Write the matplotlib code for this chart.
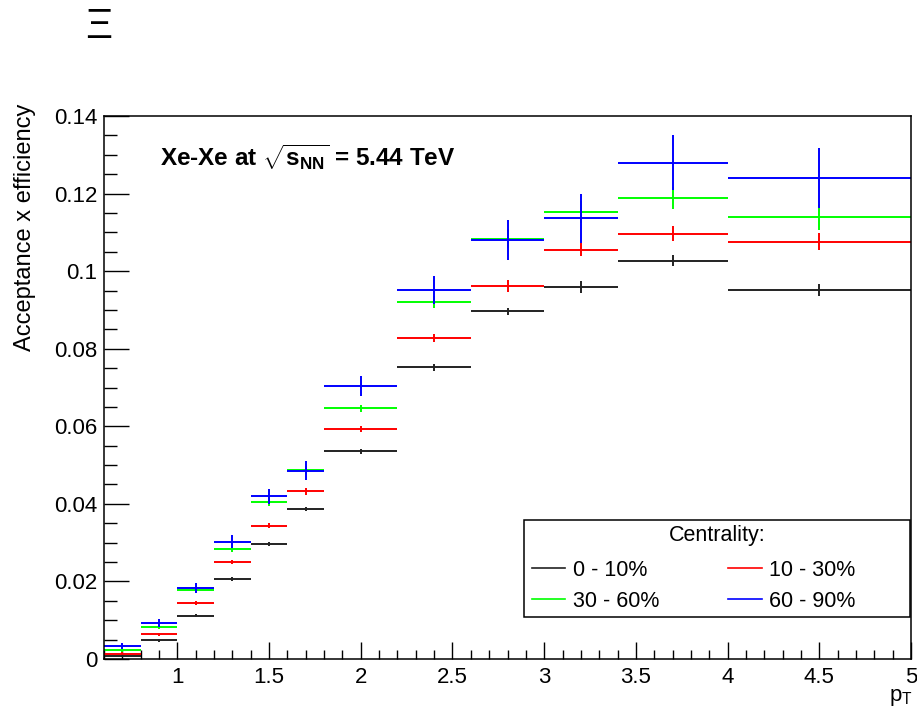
import matplotlib
matplotlib.use("Agg")
import matplotlib.pyplot as plt
from matplotlib.lines import Line2D
from matplotlib.patches import Rectangle
from matplotlib.ticker import MultipleLocator
import numpy as np

plt.rcParams['font.family'] = ['Liberation Sans', 'DejaVu Sans']
plt.rcParams['mathtext.fontset'] = 'custom'
plt.rcParams['mathtext.rm'] = 'Liberation Sans'
plt.rcParams['mathtext.bf'] = 'Liberation Sans:bold'

# pT bin edges
edges = [0.6, 0.8, 1.0, 1.2, 1.4, 1.6, 1.8, 2.2, 2.6, 3.0, 3.4, 4.0, 5.0]

# acceptance x efficiency per centrality class
eff_0_10 = [0.0007, 0.0048, 0.0111, 0.0207, 0.0297, 0.0387, 0.0535, 0.0752, 0.0896, 0.0959, 0.1027, 0.0951]
err_0_10 = [0.0003, 0.0003, 0.0004, 0.0005, 0.0005, 0.0006, 0.0007, 0.0009, 0.0010, 0.0015, 0.0015, 0.0016]
eff_10_30 = [0.0014, 0.0064, 0.0145, 0.0250, 0.0344, 0.0432, 0.0593, 0.0827, 0.0962, 0.1055, 0.1097, 0.1076]
err_10_30 = [0.0003, 0.0004, 0.0005, 0.0005, 0.0006, 0.0008, 0.0008, 0.0010, 0.0015, 0.0017, 0.0019, 0.0022]
eff_30_60 = [0.0023, 0.0082, 0.0178, 0.0283, 0.0404, 0.0488, 0.0646, 0.0921, 0.1084, 0.1152, 0.1189, 0.1139]
err_30_60 = [0.0004, 0.0005, 0.0006, 0.0008, 0.0010, 0.0010, 0.0010, 0.0016, 0.0025, 0.0028, 0.0028, 0.0033]
eff_60_90 = [0.0034, 0.0092, 0.0184, 0.0302, 0.0419, 0.0486, 0.0703, 0.0951, 0.1080, 0.1136, 0.1279, 0.1240]
err_60_90 = [0.0008, 0.0010, 0.0013, 0.0017, 0.0020, 0.0024, 0.0026, 0.0037, 0.0051, 0.0063, 0.0071, 0.0077]

labels = ['0 - 10%', '10 - 30%', '30 - 60%', '60 - 90%']
colors = ['#222222', '#ff0000', '#00ff00', '#0000ff']

edges = np.array(edges)
centers = (edges[:-1] + edges[1:]) / 2
halfw = (edges[1:] - edges[:-1]) / 2

W, H = 917, 710
fig = plt.figure(figsize=(W / 100, H / 100), dpi=100)
ax = fig.add_axes([104 / W, 51 / H, 807 / W, 543 / H])

series = [(eff_0_10, err_0_10), (eff_10_30, err_10_30),
          (eff_30_60, err_30_60), (eff_60_90, err_60_90)]
for (vals, errs), c in zip(series, colors):
    ax.errorbar(centers, vals, xerr=halfw, yerr=errs, fmt='none',
                ecolor=c, elinewidth=1.4, capsize=0)

ax.set_xlim(0.6, 5.0)
ax.set_ylim(0, 0.14)
ax.xaxis.set_minor_locator(MultipleLocator(0.1))
ax.yaxis.set_minor_locator(MultipleLocator(0.005))
ax.set_xticks([1, 1.5, 2, 2.5, 3, 3.5, 4, 4.5, 5])
ax.set_xticklabels(['1', '1.5', '2', '2.5', '3', '3.5', '4', '4.5', '5'])
ax.set_yticks([0, 0.02, 0.04, 0.06, 0.08, 0.1, 0.12, 0.14])
ax.set_yticklabels(['0', '0.02', '0.04', '0.06', '0.08', '0.1', '0.12', '0.14'])

ax.tick_params(axis='both', which='both', direction='in', top=False, right=False,
               labelsize=16, width=1)
ax.tick_params(axis='y', which='major', length=18, pad=5)
ax.tick_params(axis='y', which='minor', length=9)
ax.tick_params(axis='x', which='major', length=12, pad=6)
ax.tick_params(axis='x', which='minor', length=6.5)
for s in ax.spines.values():
    s.set_linewidth(1.1)

fig.text(25 / W, 1 - 104 / H, 'Acceptance x efficiency', rotation=90,
         ha='center', va='top', fontsize=17)
fig.text(913 / W, 1 - 701 / H, r'p$_{\mathrm{T}}$', ha='right',
         va='baseline', fontsize=16)

fig.text(85 / W, 1 - 27 / H, '\u039e', fontsize=30, va='center', ha='left')

fig.text(160 / W, 1 - 157 / H,
         r'Xe-Xe at $\sqrt{\mathbf{s}_{\mathbf{NN}}}$ = 5.44 TeV',
         fontsize=17.5, fontweight='bold', va='center', ha='left')

# legend: frame, title and two columns of entries
ax.add_patch(Rectangle((524 / W, 1 - 617 / H), 386 / W, 97 / H,
                       transform=fig.transFigure, fill=False,
                       edgecolor='black', linewidth=1.1, zorder=5))
fig.text(717 / W, 1 - 535 / H, 'Centrality:', ha='center', va='center',
         fontsize=15.5)

handles = [Line2D([], [], color=c, lw=1.2) for c in colors]
leg = ax.legend([handles[0], handles[2], handles[1], handles[3]],
                [labels[0], labels[2], labels[1], labels[3]],
                ncol=2, fontsize=15.5, frameon=False,
                loc='upper left', bbox_to_anchor=(532 / W, 1 - 560 / H),
                bbox_transform=fig.transFigure,
                handlelength=1.55, handletextpad=0.35, borderpad=0,
                labelspacing=0.45, columnspacing=3.2, borderaxespad=0)

fig.savefig('out.png', dpi=100)
